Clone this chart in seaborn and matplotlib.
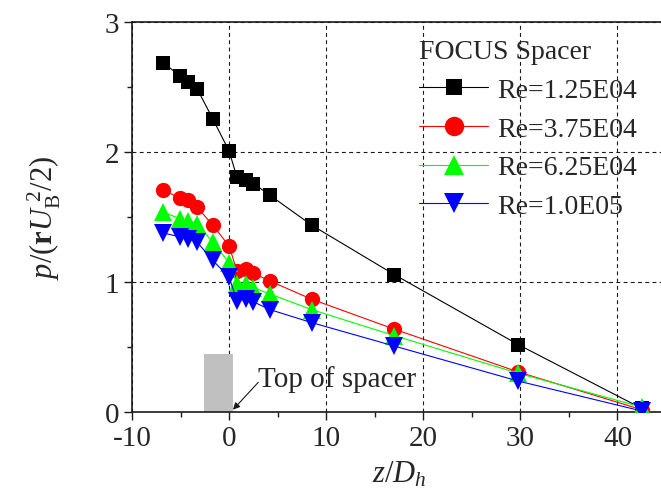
import numpy as np
import pandas as pd
import matplotlib
matplotlib.use("Agg")
import matplotlib.pyplot as plt
import seaborn as sns
from matplotlib.ticker import MultipleLocator
from matplotlib.lines import Line2D

# axial position z/Dh (same stations for all runs)
z = [-6.8, -5.1, -4.2, -3.3, -1.7, 0.0, 0.8, 1.7, 2.5, 4.2, 8.5, 17.0, 29.8, 42.5]

p_re125 = [2.69, 2.59, 2.54, 2.49, 2.26, 2.01, 1.81, 1.79, 1.76, 1.67, 1.44, 1.06, 0.52, 0.03]
p_re375 = [1.71, 1.65, 1.63, 1.58, 1.44, 1.28, 1.09, 1.10, 1.07, 1.01, 0.87, 0.64, 0.31, 0.02]
p_re625 = [1.54, 1.49, 1.47, 1.45, 1.31, 1.15, 0.99, 0.99, 0.96, 0.91, 0.79, 0.59, 0.30, 0.04]
p_re100 = [1.38, 1.35, 1.33, 1.31, 1.17, 1.04, 0.86, 0.87, 0.85, 0.79, 0.69, 0.51, 0.24, 0.01]

labels = ["Re=1.25E04", "Re=3.75E04", "Re=6.25E04", "Re=1.0E05"]
colors = ["#000000", "#ff0000", "#00ff00", "#0000ff"]
markers = ["s", "o", "^", "v"]
msizes = [10, 11, 13, 13]
leg_msizes = [12, 14, 15, 15]

spacer_z = [-2.6, 0.4]
spacer_h = 0.45

sns.set_theme(style="ticks")
plt.rcParams['font.family'] = ['Liberation Serif', 'DejaVu Serif']
plt.rcParams['axes.unicode_minus'] = False
plt.rcParams['mathtext.fontset'] = 'custom'
plt.rcParams['mathtext.rm'] = 'Liberation Serif'
plt.rcParams['mathtext.it'] = 'Liberation Serif:italic'
plt.rcParams['mathtext.bf'] = 'Liberation Serif:bold'

fig = plt.figure(figsize=(6.61, 5.02), dpi=100)
ax = fig.add_axes([132/661, 88.7/502, 534/661, 390/502])

ax.fill_between(spacer_z, 0, spacer_h, color="#c0c0c0", lw=0, zorder=2)

handles = []
for p, lab, c, m, ms, lms in zip([p_re125, p_re375, p_re625, p_re100], labels, colors,
                                 markers, msizes, leg_msizes):
    df = pd.DataFrame({"z": z, "p": p})
    sns.lineplot(data=df, x="z", y="p", ax=ax, color=c, marker=m, markersize=ms,
                 markeredgecolor=c, markeredgewidth=0, linewidth=0.8, sort=False,
                 zorder=3)
    handles.append(Line2D([], [], color=c, marker=m, markersize=lms, markeredgewidth=0,
                          linewidth=0.8, label=lab))

ax.set_xlim(-10, 45)
ax.set_ylim(0, 3)
ax.xaxis.set_major_locator(MultipleLocator(10))
ax.xaxis.set_minor_locator(MultipleLocator(5))
ax.yaxis.set_major_locator(MultipleLocator(1))
ax.yaxis.set_minor_locator(MultipleLocator(0.5))
ax.tick_params(which='major', direction='out', length=6, width=1.0, labelsize=21, pad=3, color='k')
ax.tick_params(which='minor', direction='out', length=3.5, width=1.0, color='k')
ax.grid(True, which='major', color='k', linestyle=(0, (3.5, 3)), linewidth=0.8, zorder=0)
for s in ax.spines.values():
    s.set_linewidth(1.2)
    s.set_color('k')

ax.set_xlabel(r'$z/D_h$', fontsize=22, labelpad=6)
ax.set_ylabel(r'$p/(\mathbf{r}U_{\mathrm{B}}^{\ 2}/2)$', fontsize=22, labelpad=30)

ax.text(3.0, 0.26, "Top of spacer", fontsize=21, ha='left', va='center', zorder=4)
ax.annotate("", xy=(0.4, 0.02), xytext=(3.0, 0.23),
            arrowprops=dict(arrowstyle='-|>', lw=0.8, color='k', mutation_scale=10,
                            shrinkA=0, shrinkB=0), zorder=4)

leg = ax.legend(handles=handles, title="FOCUS Spacer", loc='upper left',
                bbox_to_anchor=(419/661, 1 - 40/502),
                bbox_transform=fig.transFigure, frameon=False, fontsize=20, title_fontsize=20,
                numpoints=1, handlelength=2.5, handletextpad=0.3, labelspacing=0.48,
                borderpad=0, borderaxespad=0, alignment='left')

fig.savefig("out.png", dpi=100)
